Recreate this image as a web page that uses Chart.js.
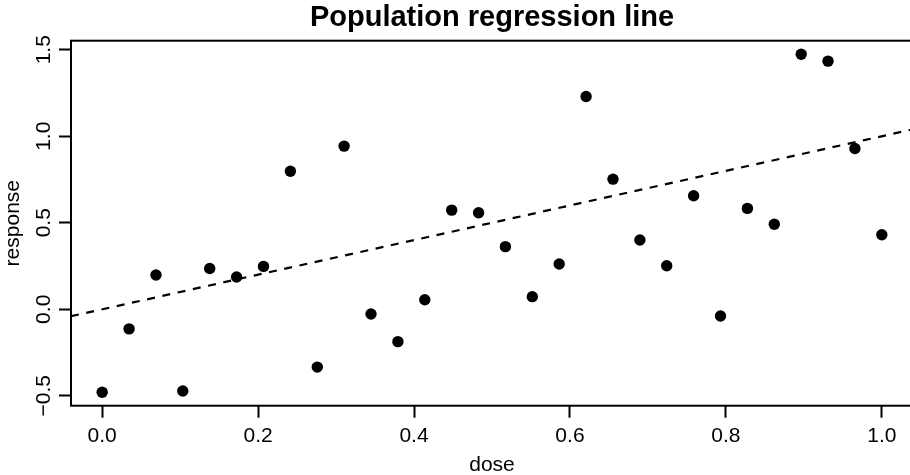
<!DOCTYPE html>
<html>
<head>
<meta charset="utf-8">
<script src="https://cdn.jsdelivr.net/npm/chart.js@4.4.1/dist/chart.umd.min.js"></script>
<style>
  html, body { margin: 0; padding: 0; background: #fff; overflow: hidden; width: 910px; height: 475px; }
  #wrap { position: absolute; left: 0; top: 0; width: 920px; height: 475px; }
</style>
</head>
<body>
<div id="wrap"><canvas id="c"></canvas></div>
<script>
// ---- data ----
const dose = [0, 0.0345, 0.069, 0.1034, 0.1379, 0.1724, 0.2069, 0.2414, 0.2759, 0.3103,
              0.3448, 0.3793, 0.4138, 0.4483, 0.4828, 0.5172, 0.5517, 0.5862, 0.6207, 0.6552,
              0.6897, 0.7241, 0.7586, 0.7931, 0.8276, 0.8621, 0.8966, 0.931, 0.9655, 1];
const response = [-0.479, -0.113, 0.198, -0.472, 0.236, 0.187, 0.248, 0.798, -0.334, 0.943,
                  -0.027, -0.187, 0.055, 0.573, 0.558, 0.362, 0.073, 0.262, 1.230, 0.752,
                  0.400, 0.252, 0.656, -0.039, 0.583, 0.491, 1.474, 1.434, 0.929, 0.431];
const xTicks = [0, 0.2, 0.4, 0.6, 0.8, 1.0];
const yTicks = [-0.5, 0, 0.5, 1.0, 1.5];
const lineIntercept = [0];
const lineSlope = [1];
const titleText = 'Population regression line';
const xLabel = 'dose';
const yLabel = 'response';

// ---- axis ranges (R style 4% extension) ----
const xLo = Math.min(...dose), xHi = Math.max(...dose);
const yLo = Math.min(...response), yHi = Math.max(...response);
const xMin = xLo - 0.04 * (xHi - xLo), xMax = xHi + 0.04 * (xHi - xLo);
const yMin = yLo - 0.04 * (yHi - yLo), yMax = yHi + 0.04 * (yHi - yLo);

const FAM = '"Liberation Sans", Arial, Helvetica, sans-serif';
const fmt = v => (v < 0 ? '\u2212' + Math.abs(v).toFixed(1) : v.toFixed(1));

const boxPlugin = {
  id: 'rbox',
  beforeDatasetsDraw(chart) {
    const a = chart.chartArea, ctx = chart.ctx;
    ctx.save();
    ctx.strokeStyle = '#000';
    ctx.lineWidth = 2;
    ctx.strokeRect(a.left, a.top, a.right - a.left, a.bottom - a.top);
    ctx.restore();
  }
};

new Chart(document.getElementById('c'), {
  type: 'scatter',
  data: {
    datasets: [
      {
        label: 'data',
        data: dose.map((d, i) => ({ x: d, y: response[i] })),
        backgroundColor: '#000',
        borderColor: '#000',
        borderWidth: 0,
        pointRadius: 5.7,
        pointHoverRadius: 5.7
      },
      {
        type: 'line',
        label: 'population line',
        data: [xMin, xMax].map(x => ({ x: x, y: lineIntercept[0] + lineSlope[0] * x })),
        borderColor: '#000',
        borderWidth: 2.2,
        borderDash: [8, 7.6],
        pointRadius: 0,
        fill: false
      }
    ]
  },
  options: {
    responsive: true,
    maintainAspectRatio: false,
    animation: false,
    events: [],
    layout: { padding: { left: 0, right: 7, top: 0, bottom: 0 } },
    plugins: {
      legend: { display: false },
      tooltip: { enabled: false },
      title: {
        display: true,
        text: titleText,
        fullSize: false,
        color: '#000',
        font: { family: FAM, size: 29, weight: 'bold', lineHeight: 1.2 },
        padding: { top: 0.8, bottom: 5.1 }
      }
    },
    scales: {
      x: {
        type: 'linear',
        min: xMin, max: xMax,
        afterBuildTicks: s => { s.ticks = xTicks.map(v => ({ value: v })); },
        afterFit: s => { s.height = 475 - 405.7; s.paddingLeft = 0; s.paddingRight = 0; },
        grid: { drawOnChartArea: false, drawTicks: true, tickLength: 12, tickWidth: 2, tickColor: '#000', color: '#000' },
        border: { display: false },
        ticks: { autoSkip: false, maxRotation: 0, minRotation: 0, padding: 6.0, color: '#000',
                 font: { family: FAM, size: 21, lineHeight: 1.2 }, callback: v => fmt(v) },
        title: { display: true, text: xLabel, color: '#000',
                 font: { family: FAM, size: 21, lineHeight: 0.9 }, padding: { top: 0, bottom: 0.15 } }
      },
      y: {
        type: 'linear',
        min: yMin, max: yMax,
        afterBuildTicks: s => { s.ticks = yTicks.map(v => ({ value: v })); },
        afterFit: s => { s.width = 71; s.paddingTop = 0; s.paddingBottom = 0; },
        grid: { drawOnChartArea: false, drawTicks: true, tickLength: 12, tickWidth: 2, tickColor: '#000', color: '#000' },
        border: { display: false },
        ticks: { autoSkip: false, minRotation: 90, maxRotation: 90, crossAlign: 'center', padding: -6.1, color: '#000',
                 font: { family: FAM, size: 21, lineHeight: 1.2 }, callback: v => fmt(v) },
        title: { display: true, text: yLabel, color: '#000',
                 font: { family: FAM, size: 21, lineHeight: 1.2 }, padding: { top: 0.5, bottom: 0 } }
      }
    }
  },
  plugins: [boxPlugin]
});
</script>
</body>
</html>
